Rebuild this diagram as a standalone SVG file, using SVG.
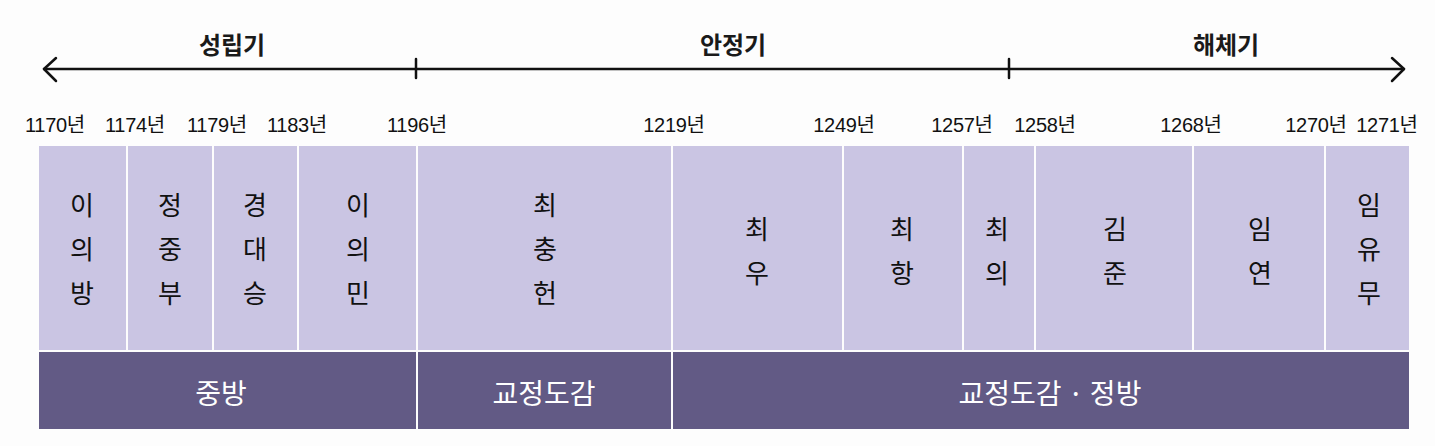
<svg xmlns="http://www.w3.org/2000/svg" width="1435" height="446" viewBox="0 0 1435 446">
<style>
.bg{fill:#fdfdfd}
.axis{stroke:#111;stroke-width:2.5;fill:none;stroke-linecap:round;stroke-linejoin:round}
.period{font-family:"Noto Sans CJK KR","Liberation Sans",sans-serif;font-size:24px;font-weight:bold;fill:#1a1a1a;text-anchor:middle}
.year{font-family:"Liberation Sans","Noto Sans CJK KR",sans-serif;font-size:20px;fill:#111;text-anchor:middle;letter-spacing:-0.3px}
.cell{fill:#cac5e3}
.band{fill:#625a85}
.name{font-family:"Noto Sans CJK KR","Liberation Sans",sans-serif;font-size:26px;fill:#111;text-anchor:middle}
.org{font-family:"Noto Sans CJK KR","Liberation Sans",sans-serif;font-size:28px;fill:#fff;text-anchor:middle}
</style>
<rect class="bg" x="0" y="0" width="1435" height="446"/>
<g id="timeline-axis">
<path class="axis" d="M44 69 H1404"/>
<path class="axis" d="M56 58 L44 69 L56 81"/>
<path class="axis" d="M1392 58 L1404 69 L1392 81"/>
<path class="axis" d="M416 59 V78"/>
<path class="axis" d="M1009 59 V78"/>
</g>
<g id="periods">
<text class="period" x="232" y="54">성립기</text>
<text class="period" x="733" y="54">안정기</text>
<text class="period" x="1226" y="54">해체기</text>
</g>
<g id="years">
<text class="year" x="55" y="132">1170년</text>
<text class="year" x="135" y="132">1174년</text>
<text class="year" x="217" y="132">1179년</text>
<text class="year" x="297" y="132">1183년</text>
<text class="year" x="417" y="132">1196년</text>
<text class="year" x="674" y="132">1219년</text>
<text class="year" x="844" y="132">1249년</text>
<text class="year" x="962" y="132">1257년</text>
<text class="year" x="1045" y="132">1258년</text>
<text class="year" x="1191" y="132">1268년</text>
<text class="year" x="1316" y="132">1270년</text>
<text class="year" x="1387" y="132">1271년</text>
</g>
<g id="ruler-1">
<rect class="cell" x="39" y="146" width="87" height="204"/>
<text class="name" x="82" y="215">이</text><text class="name" x="82" y="259">의</text><text class="name" x="82" y="303">방</text>
</g>
<g id="ruler-2">
<rect class="cell" x="128" y="146" width="84" height="204"/>
<text class="name" x="170" y="215">정</text><text class="name" x="170" y="259">중</text><text class="name" x="170" y="303">부</text>
</g>
<g id="ruler-3">
<rect class="cell" x="214" y="146" width="83" height="204"/>
<text class="name" x="255" y="215">경</text><text class="name" x="255" y="259">대</text><text class="name" x="255" y="303">승</text>
</g>
<g id="ruler-4">
<rect class="cell" x="299" y="146" width="117" height="204"/>
<text class="name" x="358" y="215">이</text><text class="name" x="358" y="259">의</text><text class="name" x="358" y="303">민</text>
</g>
<g id="ruler-5">
<rect class="cell" x="418" y="146" width="253" height="204"/>
<text class="name" x="545" y="215">최</text><text class="name" x="545" y="259">충</text><text class="name" x="545" y="303">헌</text>
</g>
<g id="ruler-6">
<rect class="cell" x="673" y="146" width="169" height="204"/>
<text class="name" x="757" y="239">최</text><text class="name" x="757" y="283">우</text>
</g>
<g id="ruler-7">
<rect class="cell" x="844" y="146" width="118" height="204"/>
<text class="name" x="902" y="239">최</text><text class="name" x="902" y="283">항</text>
</g>
<g id="ruler-8">
<rect class="cell" x="964" y="146" width="70" height="204"/>
<text class="name" x="997" y="239">최</text><text class="name" x="997" y="283">의</text>
</g>
<g id="ruler-9">
<rect class="cell" x="1036" y="146" width="156" height="204"/>
<text class="name" x="1115" y="239">김</text><text class="name" x="1115" y="283">준</text>
</g>
<g id="ruler-10">
<rect class="cell" x="1194" y="146" width="130" height="204"/>
<text class="name" x="1260" y="239">임</text><text class="name" x="1260" y="283">연</text>
</g>
<g id="ruler-11">
<rect class="cell" x="1326" y="146" width="83" height="204"/>
<text class="name" x="1369" y="215">임</text><text class="name" x="1369" y="259">유</text><text class="name" x="1369" y="303">무</text>
</g>
<g id="org-1">
<rect class="band" x="39" y="352" width="377" height="77"/>
<text class="org" x="221" y="404">중방</text>
</g>
<g id="org-2">
<rect class="band" x="418" y="352" width="253" height="77"/>
<text class="org" x="544" y="404">교정도감</text>
</g>
<g id="org-3">
<rect class="band" x="673" y="352" width="736" height="77"/>
<text class="org" x="1050" y="404">교정도감 · 정방</text>
</g>
<g id="connectors"></g>
</svg>
